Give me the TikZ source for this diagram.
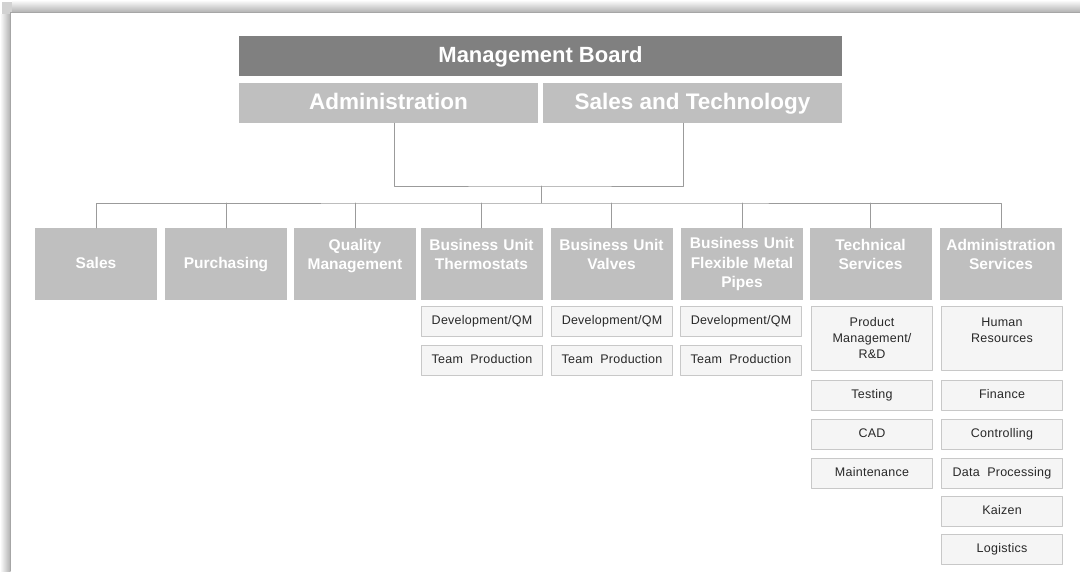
\documentclass[tikz,border=0pt]{standalone}
\usepackage{fontspec}
\setmainfont{Liberation Sans}
\newfontfamily\boxfont[LetterSpace=2]{Liberation Sans}
\usepackage{tikz}

\definecolor{boardgray}{RGB}{128,128,128}
\definecolor{unitgray}{RGB}{191,191,191}
\definecolor{subfill}{RGB}{245,245,245}
\definecolor{subline}{RGB}{200,200,200}
\definecolor{linkgray}{RGB}{155,155,155}
\definecolor{subtext}{RGB}{40,40,40}

\begin{document}
\begin{tikzpicture}[x=1pt,y=-1pt,line cap=round,line join=round,
  boardbox/.style={fill=boardgray,text=white,font=\fontsize{22}{24}\selectfont\bfseries,
    minimum width=603pt,minimum height=40pt,inner sep=0pt,text height=16pt,text depth=4pt},
  headbox/.style={fill=unitgray,text=white,font=\fontsize{22.5}{24}\selectfont\bfseries,
    minimum width=299pt,minimum height=40pt,inner sep=0pt,text height=16pt,text depth=4pt},
  unitbox/.style={fill=unitgray,text=white,font=\fontsize{15.5}{19.5}\selectfont\bfseries,
    align=center,text width=122pt,minimum width=122pt,minimum height=72pt,inner sep=0pt},
  unitone/.style={unitbox,text height=11.5pt,text depth=3.5pt},
  subbox/.style={fill=subfill,draw=subline,line width=1pt,text=subtext,
    font=\boxfont\fontsize{12.5}{16}\selectfont,align=center,
    minimum width=121pt,minimum height=30pt,inner sep=0pt},
  subone/.style={subbox,text height=9pt,text depth=2.5pt},
  linkline/.style={draw=linkgray,line width=0.9pt}]

\useasboundingbox (0,0) rectangle (1080,571);

%% panel with its shadow
\fill[left color=white,right color=gray!60] (0,14) rectangle (10,571);
\fill[top color=white,bottom color=gray!60] (12,0) rectangle (1080,12);
\fill[gray!35] (2,2) rectangle (12,14);
\fill[white] (10,12) rectangle (1080,571);
\draw[gray!70,line width=1pt] (10,571) -- (10,12) -- (1080,12);

%% board
\node[boardbox] (board) at (540.5,56) {Management Board};
\node[headbox] (admin) at (388.5,103) {Administration};
\node[headbox] (salestech) at (692.5,103) {Sales and Technology};

%% departments
\node[unitone] (sales) at (96,264) {Sales};
\node[unitone] (purch) at (226,264) {Purchasing};
\node[unitbox] (qm) at (355,264) {Quality\\Management\\\mbox{}};
\node[unitbox] (thermo) at (481.5,264) {Business Unit\\Thermostats\\\mbox{}};
\node[unitbox] (valves) at (611.5,264) {Business Unit\\Valves\\\mbox{}};
\node[unitbox] (flex) at (742,264) {Business Unit\\Flexible Metal\\Pipes};
\node[unitbox] (tech) at (870.5,264) {Technical\\Services\\\mbox{}};
\node[unitbox] (adminsvc) at (1001,264) {Administration\\Services\\\mbox{}};

%% lines
\coordinate (join) at (541,186);
\coordinate (bus) at (541,203);
\draw[linkline] ([xshift=6]admin.south) |- (join) -| ([xshift=-9]salestech.south);
\draw[linkline] (join) -- (bus);
\draw[linkline] (sales.north) |- (bus) -| (adminsvc.north);
\draw[linkline] (purch.north) -- (purch.north |- bus);
\draw[linkline] (qm.north) -- (qm.north |- bus);
\draw[linkline] (thermo.north) -- (thermo.north |- bus);
\draw[linkline] (valves.north) -- (valves.north |- bus);
\draw[linkline] (flex.north) -- (flex.north |- bus);
\draw[linkline] (tech.north) -- (tech.north |- bus);

%% teams
\node[subone] (thermodev) at (482,321) {Development/QM};
\node[subone] (thermoprod) at (482,360) {Team\ \ Production};
\node[subone] (valvesdev) at (612,321) {Development/QM};
\node[subone] (valvesprod) at (612,360) {Team\ \ Production};
\node[subone] (flexdev) at (741,321) {Development/QM};
\node[subone] (flexprod) at (741,360) {Team\ \ Production};

\node[subbox,minimum height=64pt] (pmrd) at (872,338) {Product\\Management/\\R\&D};
\node[subone] (testing) at (872,395.5) {Testing};
\node[subone] (cad) at (872,434) {CAD};
\node[subone] (maint) at (872,473) {Maintenance};

\node[subbox,minimum height=64pt] (hr) at (1002,338) {Human\\Resources\\\mbox{}};
\node[subone] (finance) at (1002,395.5) {Finance};
\node[subone] (controlling) at (1002,434) {Controlling};
\node[subone] (dataproc) at (1002,473) {Data\ \ Processing};
\node[subone] (kaizen) at (1002,511) {Kaizen};
\node[subone] (logistics) at (1002,549) {Logistics};
\end{tikzpicture}
\end{document}
